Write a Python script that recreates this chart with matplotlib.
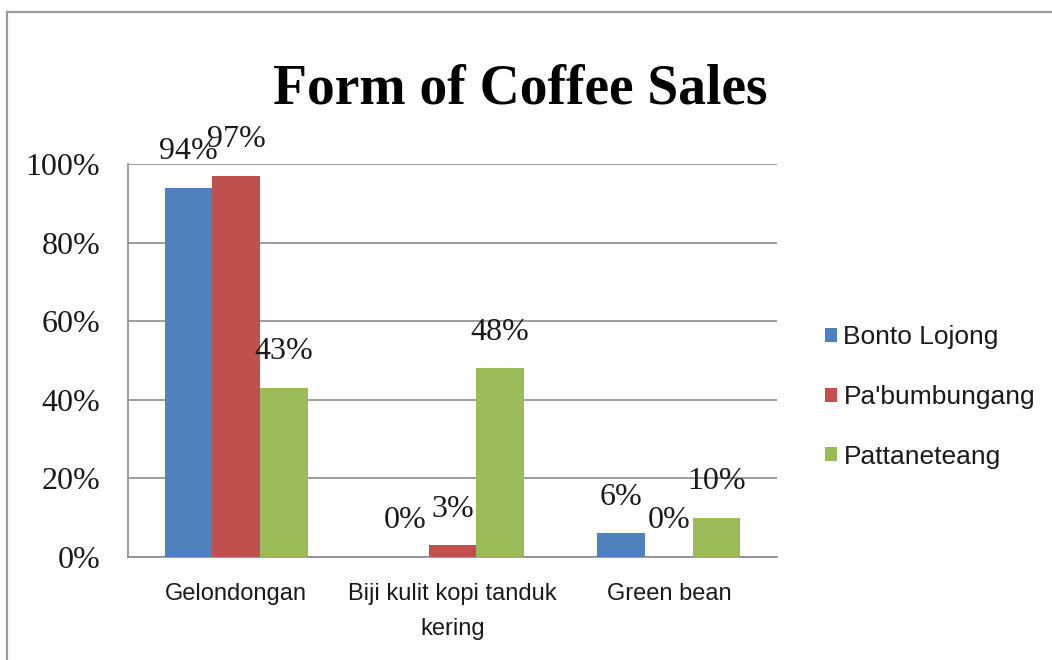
import numpy as np
import matplotlib
matplotlib.use("Agg")
import matplotlib.pyplot as plt
from matplotlib.patches import Rectangle
from matplotlib.ticker import PercentFormatter
from matplotlib.transforms import ScaledTranslation

# survey shares per village and form of sale
categories = ["Gelondongan", "Biji kulit kopi tanduk\nkering", "Green bean"]
villages = ["Bonto Lojong", "Pa'bumbungang", "Pattaneteang"]
bonto_lojong = [0.94, 0.00, 0.06]
pabumbungang = [0.97, 0.03, 0.00]
pattaneteang = [0.43, 0.48, 0.10]
colors = ["#4F81BD", "#C0504D", "#9BBB59"]

serif = ["Liberation Serif", "DejaVu Serif"]
sans = ["Liberation Sans", "DejaVu Sans"]

fig = plt.figure(figsize=(10.52, 6.6), dpi=100)
fig.patch.set_facecolor("white")

# chart-area frame (only top and left edges show)
fig.patches.append(Rectangle((7 / 1052, -0.1), 1.2, 1 - 12 / 660 + 0.1,
                             transform=fig.transFigure, fill=False,
                             edgecolor="#9a9a9a", linewidth=1.6))

ax = fig.add_axes([128 / 1052, 1 - 557 / 660, (777 - 128) / 1052, (557 - 164) / 660])

x = np.arange(len(categories))
width = 0.22
series = [bonto_lojong, pabumbungang, pattaneteang]
for i, (vals, name, col) in enumerate(zip(series, villages, colors)):
    bars = ax.bar(x + (i - 1) * width, vals, width, color=col, label=name, zorder=3)
    for rect, v in zip(bars, vals):
        ax.annotate(f"{v:.0%}", (rect.get_x() + rect.get_width() / 2, v),
                    xytext=(0, 26), textcoords="offset points",
                    ha="center", va="center", fontsize=23, family=serif,
                    color="#1a1a1a", zorder=4)

ax.set_xlim(-0.5, 2.5)
ax.set_ylim(0, 1.0)
ax.set_yticks(np.arange(0, 1.01, 0.2))
ax.yaxis.set_major_formatter(PercentFormatter(1.0, decimals=0))
ax.set_xticks(x)
ax.set_xticklabels(categories, family=sans, fontsize=17, linespacing=1.75)
nudge = ScaledTranslation(0, -3 / 100, fig.dpi_scale_trans)
for lbl in ax.get_yticklabels():
    lbl.set_family(serif)
    lbl.set_fontsize(23)
    lbl.set_transform(lbl.get_transform() + nudge)
ax.tick_params(axis="y", length=0, pad=20, colors="#1a1a1a")
ax.tick_params(axis="x", length=0, pad=19, colors="#1a1a1a")

ax.grid(axis="y", color="#8c8c8c", linewidth=1.2, zorder=0)
for side in ["top", "right"]:
    ax.spines[side].set_visible(False)
for side in ["left", "bottom"]:
    ax.spines[side].set_color("#8c8c8c")
    ax.spines[side].set_linewidth(1.2)

fig.text(520 / 1052, 1 - 89 / 660, "Form of Coffee Sales", ha="center", va="center",
         fontsize=40, fontweight="bold", family=serif)

leg = fig.legend(loc="center left", bbox_to_anchor=(825 / 1052, 1 - 397 / 660),
                 frameon=False, borderpad=0, borderaxespad=0,
                 handlelength=0.45, handleheight=0.45, handletextpad=0.25,
                 labelspacing=1.35, prop={"family": sans, "size": 19})
for t in leg.get_texts():
    t.set_color("#1a1a1a")

fig.savefig("out.png", dpi=100, facecolor="white")
